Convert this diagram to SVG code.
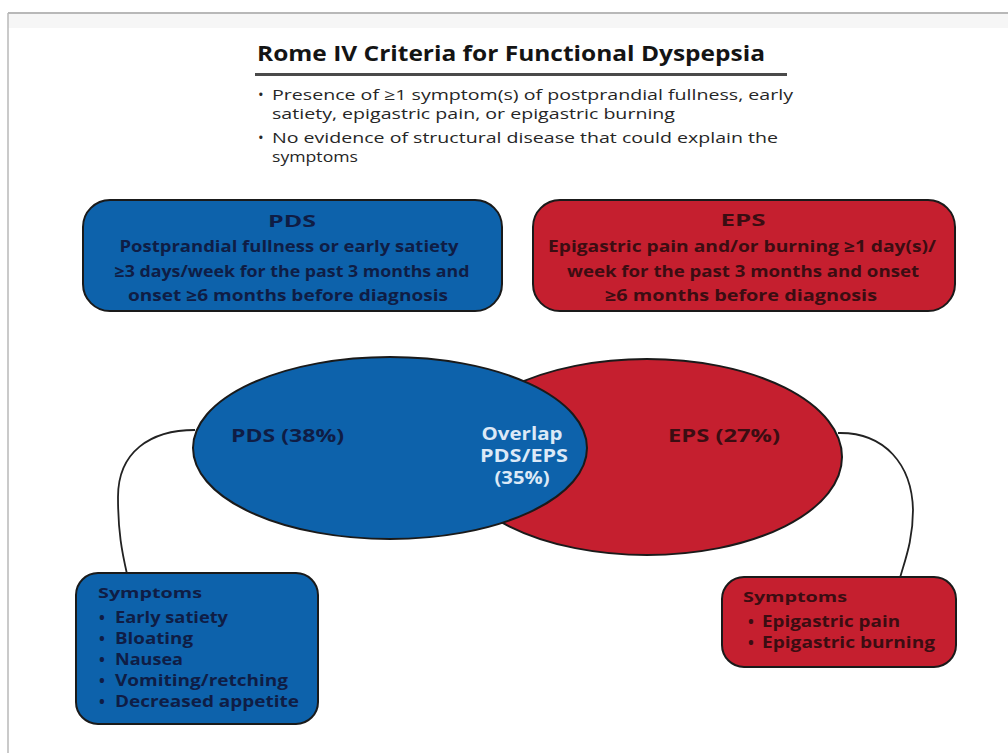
<svg xmlns="http://www.w3.org/2000/svg" width="1008" height="753" viewBox="0 0 1008 753">
<defs>
<style>
text{font-family:"Open Sans","Liberation Sans",sans-serif;}
.t{font-weight:700;font-size:22px;fill:#141414;}
.b{font-size:15px;fill:#262626;}
.hb{font-weight:700;font-size:15.5px;fill:#0f1d45;text-anchor:middle;}
.hr{font-weight:700;font-size:15.5px;fill:#3b0d12;text-anchor:middle;}
.el{font-weight:700;font-size:17.5px;}
.sb{font-weight:700;font-size:15.5px;fill:#0f1d45;}
.sr{font-weight:700;font-size:15.5px;fill:#3b0d12;}
.sh{font-size:14.5px;}
.blue{fill:#0d62ab;stroke:#1a1a1a;stroke-width:2;}
.red{fill:#c51f2f;stroke:#1a1a1a;stroke-width:2;}
.conn{fill:none;stroke:#222;stroke-width:1.8;}
</style>
</defs>
<rect x="0" y="0" width="1008" height="753" fill="#ffffff"/>
<g id="frame">
<rect x="8" y="14" width="1000" height="14" fill="#f6f6f6"/>
<line x1="8" y1="13" x2="1008" y2="13" stroke="#b8b8b8" stroke-width="2"/>
<line x1="8" y1="13" x2="8" y2="753" stroke="#b8b8b8" stroke-width="1.5"/>
</g>
<g id="header">
<text class="t" x="257" y="61" textLength="508" lengthAdjust="spacingAndGlyphs">Rome IV Criteria for Functional Dyspepsia</text>
<rect x="255" y="73" width="532" height="3" fill="#4a4a4a"/>
<text class="b" x="258" y="100">•</text>
<text class="b" x="272" y="100" textLength="521" lengthAdjust="spacingAndGlyphs">Presence of ≥1 symptom(s) of postprandial fullness, early</text>
<text class="b" x="272" y="119" textLength="403" lengthAdjust="spacingAndGlyphs">satiety, epigastric pain, or epigastric burning</text>
<text class="b" x="258" y="143">•</text>
<text class="b" x="272" y="143" textLength="506" lengthAdjust="spacingAndGlyphs">No evidence of structural disease that could explain the</text>
<text class="b" x="272" y="162" textLength="86" lengthAdjust="spacingAndGlyphs">symptoms</text>
</g>
<g id="connectors">
<path class="conn" d="M195,430 C150,430 118,452 118,497 C118,532 122,552 127,574"/>
<path class="conn" d="M838,433 C885,432 912,465 913,510 C913,540 905,560 900,578"/>
</g>
<g id="pds-box">
<rect class="blue" x="83" y="200" width="419" height="111" rx="27"/>
<text class="hb" x="292" y="227" textLength="48" lengthAdjust="spacingAndGlyphs">PDS</text>
<text class="hb" x="289" y="252" textLength="339" lengthAdjust="spacingAndGlyphs">Postprandial fullness or early satiety</text>
<text class="hb" x="292" y="277" textLength="355" lengthAdjust="spacingAndGlyphs">≥3 days/week for the past 3 months and</text>
<text class="hb" x="288" y="301" textLength="320" lengthAdjust="spacingAndGlyphs">onset ≥6 months before diagnosis</text>
</g>
<g id="eps-box">
<rect class="red" x="533" y="200" width="422" height="111" rx="27"/>
<text class="hr" x="743" y="226" textLength="45" lengthAdjust="spacingAndGlyphs">EPS</text>
<text class="hr" x="742" y="252" textLength="388" lengthAdjust="spacingAndGlyphs">Epigastric pain and/or burning ≥1 day(s)/</text>
<text class="hr" x="743" y="277" textLength="352" lengthAdjust="spacingAndGlyphs">week for the past 3 months and onset</text>
<text class="hr" x="741" y="301" textLength="272" lengthAdjust="spacingAndGlyphs">≥6 months before diagnosis</text>
</g>
<g id="eps-ellipse">
<ellipse class="red" cx="647" cy="457" rx="195" ry="98"/>
</g>
<g id="pds-ellipse">
<ellipse class="blue" cx="390" cy="448" rx="197" ry="91"/>
<text class="el" x="231" y="442" fill="#0f1d45" textLength="113" lengthAdjust="spacingAndGlyphs">PDS (38%)</text>
</g>
<g id="overlap">
<text class="el" x="522" y="440" fill="#dce9f7" text-anchor="middle" textLength="81" lengthAdjust="spacingAndGlyphs">Overlap</text>
<text class="el" x="524" y="462" fill="#dce9f7" text-anchor="middle" textLength="88" lengthAdjust="spacingAndGlyphs">PDS/EPS</text>
<text class="el" x="522" y="484" fill="#dce9f7" text-anchor="middle" textLength="55" lengthAdjust="spacingAndGlyphs">(35%)</text>
</g>
<g id="eps-label">
<text class="el" x="668" y="442" fill="#3b0d12" textLength="112" lengthAdjust="spacingAndGlyphs">EPS (27%)</text>
</g>
<g id="pds-symptoms">
<rect class="blue" x="76" y="573" width="242" height="151" rx="22"/>
<text class="sb sh" x="98" y="598" textLength="104" lengthAdjust="spacingAndGlyphs">Symptoms</text>
<text class="sb" x="99" y="623">•</text>
<text class="sb" x="115" y="623" textLength="113" lengthAdjust="spacingAndGlyphs">Early satiety</text>
<text class="sb" x="99" y="644">•</text>
<text class="sb" x="115" y="644" textLength="78" lengthAdjust="spacingAndGlyphs">Bloating</text>
<text class="sb" x="99" y="665">•</text>
<text class="sb" x="115" y="665" textLength="68" lengthAdjust="spacingAndGlyphs">Nausea</text>
<text class="sb" x="99" y="686">•</text>
<text class="sb" x="115" y="686" textLength="173" lengthAdjust="spacingAndGlyphs">Vomiting/retching</text>
<text class="sb" x="99" y="707">•</text>
<text class="sb" x="115" y="707" textLength="184" lengthAdjust="spacingAndGlyphs">Decreased appetite</text>
</g>
<g id="eps-symptoms">
<rect class="red" x="722" y="577" width="234" height="90" rx="22"/>
<text class="sr sh" x="743" y="602" textLength="104" lengthAdjust="spacingAndGlyphs">Symptoms</text>
<text class="sr" x="748" y="627">•</text>
<text class="sr" x="762" y="627" textLength="138" lengthAdjust="spacingAndGlyphs">Epigastric pain</text>
<text class="sr" x="748" y="648">•</text>
<text class="sr" x="762" y="648" textLength="173" lengthAdjust="spacingAndGlyphs">Epigastric burning</text>
</g>
</svg>
